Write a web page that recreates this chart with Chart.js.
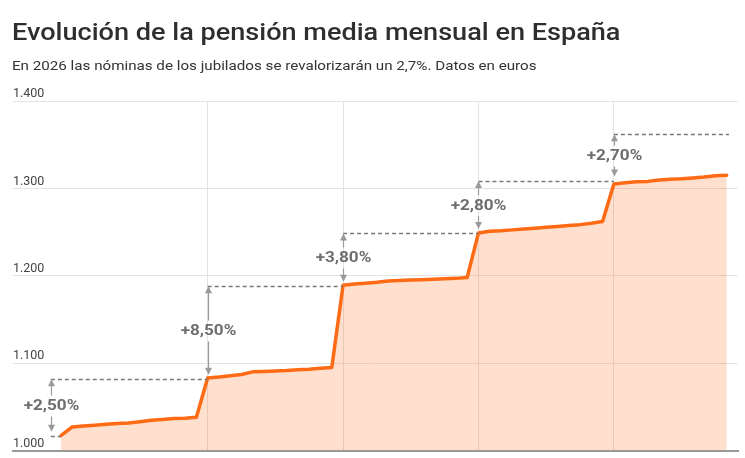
<!DOCTYPE html>
<html><head><meta charset="utf-8">
<script src="https://cdn.jsdelivr.net/npm/chart.js@4.4.0/dist/chart.umd.min.js"></script>
<style>
html,body{margin:0;padding:0;background:#fff;width:745px;height:458px;overflow:hidden}
#wrap{position:relative;width:745px;height:458px}
#title{position:absolute;left:12px;top:17.5px;font:500 23.4px Roboto,sans-serif;color:#2e2e2e;white-space:nowrap;transform-origin:0 0}
#sub{position:absolute;left:12px;top:58px;font:400 13px Roboto,sans-serif;color:#333;white-space:nowrap;transform-origin:0 0}
canvas{position:absolute;left:0;top:0}
</style></head><body>
<div id="wrap"><canvas id="c" width="745" height="458"></canvas>
<div id="title">Evolución de la pensión media mensual en España</div>
<div id="sub">En 2026 las nóminas de los jubilados se revalorizarán un 2,7%. Datos en euros</div></div>
<script>
// Months of the series (YYYY-MM) and average monthly pension (euros)
const months = [
 '2020-12',
 '2021-01','2021-02','2021-03','2021-04','2021-05','2021-06','2021-07','2021-08','2021-09','2021-10','2021-11','2021-12',
 '2022-01','2022-02','2022-03','2022-04','2022-05','2022-06','2022-07','2022-08','2022-09','2022-10','2022-11','2022-12',
 '2023-01','2023-02','2023-03','2023-04','2023-05','2023-06','2023-07','2023-08','2023-09','2023-10','2023-11','2023-12',
 '2024-01','2024-02','2024-03','2024-04','2024-05','2024-06','2024-07','2024-08','2024-09','2024-10','2024-11','2024-12',
 '2025-01','2025-02','2025-03','2025-04','2025-05','2025-06','2025-07','2025-08','2025-09','2025-10','2025-11'
];
const pension = [
 1017,
 1027,1028,1029,1030,1031,1031.5,1033,1034.5,1035.5,1036.5,1037,1038,
 1083,1084,1085.5,1087,1090,1090.5,1091,1091.5,1092.5,1093,1094,1095,
 1189,1190.5,1191.5,1192.5,1194,1194.5,1195,1195.5,1196,1196.5,1197,1198,
 1249,1251,1251.5,1252.5,1253.5,1254.5,1255.5,1256.5,1257.5,1258.5,1260,1262,
 1305,1306.5,1307.5,1308,1309.5,1310.5,1311,1312,1313,1314.5,1315
];
const yTicks = [1000,1100,1200,1300,1400];
const yearStarts = ['2022-01','2023-01','2024-01','2025-01'];
// Revaluation annotations: position (month), level before, level after, label
const revalAt = ['2020-11.1','2022-01','2023-01','2024-01','2025-01'];
const revalFrom = [1017,1082,1188.5,1249,1309];
const revalTo = [1082,1188.5,1249,1309,1362.5];
const revalLabels = ['+2,50%','+8,50%','+3,80%','+2,80%','+2,70%'];
const levelEnd = ['2022-01','2023-01','2024-01','2025-01','2025-11.2'];

// the reference text is horizontally stretched; fit title/subtitle widths
function fitText(id, w){const el=document.getElementById(id);el.style.transform='scaleX('+(w/el.offsetWidth)+')';}
fitText('title',608); fitText('sub',525);
const TEXT_STRETCH = 1.18;

function mIndex(s){const [yy,mm]=s.split('-');return (parseInt(yy)-2021)*12+parseFloat(mm)-1;}
const pts = months.map((m,i)=>({x:mIndex(m),y:pension[i]}));

const annot = {
 id:'annot',
 afterDatasetsDraw(chart){
  const {ctx,scales:{x,y}} = chart;
  ctx.save();
  ctx.setLineDash([4,3]);
  ctx.strokeStyle='#7a7a7a'; ctx.lineWidth=1.4;
  const lv = (x0,x1,v)=>{const yy=Math.round(y.getPixelForValue(v))+0.5;ctx.beginPath();ctx.moveTo(x.getPixelForValue(x0),yy);ctx.lineTo(x.getPixelForValue(x1),yy);ctx.stroke();};
  lv(mIndex(revalAt[0]), pts[0].x, revalFrom[0]);
  for(let i=0;i<revalAt.length;i++) lv(mIndex(revalAt[i]), mIndex(levelEnd[i]), revalTo[i]);
  ctx.setLineDash([]);
  ctx.font='bold 14.5px Roboto, sans-serif';
  ctx.textAlign='center'; ctx.textBaseline='middle';
  for(let i=0;i<revalAt.length;i++){
   const X=Math.round(x.getPixelForValue(mIndex(revalAt[i])))+0.5;
   const yb=y.getPixelForValue(revalFrom[i])-4;
   const yt=y.getPixelForValue(revalTo[i])+0.5;
   const ym=(yb+yt)/2;
   ctx.strokeStyle='#9a9a9a'; ctx.fillStyle='#9a9a9a'; ctx.lineWidth=1.2;
   ctx.beginPath(); ctx.moveTo(X,yt+5); ctx.lineTo(X,ym-10); ctx.moveTo(X,ym+11); ctx.lineTo(X,yb-5); ctx.stroke();
   ctx.beginPath(); ctx.moveTo(X,yt); ctx.lineTo(X-3.5,yt+7); ctx.lineTo(X+3.5,yt+7); ctx.closePath(); ctx.fill();
   ctx.beginPath(); ctx.moveTo(X,yb); ctx.lineTo(X-3.5,yb-7); ctx.lineTo(X+3.5,yb-7); ctx.closePath(); ctx.fill();
   ctx.fillStyle='#6e6e6e';
   ctx.save(); ctx.translate(X, ym+1); ctx.scale(TEXT_STRETCH,1);
   ctx.fillText(revalLabels[i], 0, 0);
   ctx.restore();
  }
  ctx.restore();
 }
};

new Chart(document.getElementById('c'),{
 type:'line',
 data:{datasets:[{
  data:pts,
  borderColor:'#ff6a14',
  borderWidth:3.5,
  backgroundColor:'rgba(255,110,30,0.21)',
  fill:'start',
  pointRadius:0,
  tension:0,
  borderJoinStyle:'round',
  borderCapStyle:'round'
 }]},
 options:{
  responsive:false,
  animation:false,
  layout:{padding:{left:13,right:7,top:101,bottom:6}},
  plugins:{legend:{display:false},tooltip:{enabled:false}},
  scales:{
   x:{type:'linear',min:-5.25,max:59,
    afterBuildTicks(s){s.ticks=yearStarts.map(v=>({value:mIndex(v)}));},
    ticks:{display:false},
    grid:{color:'#e2e2e2',lineWidth:1,drawTicks:false},
    border:{display:true,color:'#9a9a9a',width:2}
   },
   y:{min:1000,max:1400,
    afterBuildTicks(s){s.ticks=yTicks.map(v=>({value:v}));},
    ticks:{mirror:true,padding:0,labelOffset:-6.8,color:'#444',font:{family:'Roboto',size:12.5},
      callback:v=>v.toLocaleString('de-DE').replace(/,/g,'.')},
    grid:{color:'#e4e4e4',lineWidth:1,drawTicks:false},
    border:{display:false}
   }
  }
 },
 plugins:[annot]
});
</script>
</body></html>
